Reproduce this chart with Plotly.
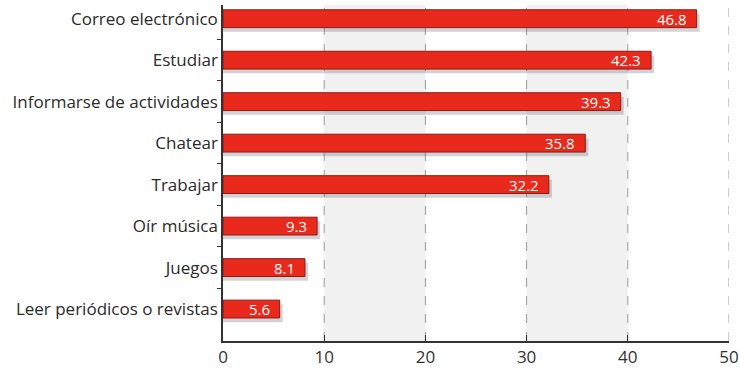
import plotly.graph_objects as go

categorias = ["Correo electrónico", "Estudiar", "Informarse de actividades", "Chatear",
              "Trabajar", "Oír música", "Juegos", "Leer periódicos o revistas"]
valores = [46.8, 42.3, 39.3, 35.8, 32.2, 9.3, 8.1, 5.6]
etiquetas = [f"{v:.1f}" for v in valores]
x_ticks = [0, 10, 20, 30, 40, 50]
bandas = [(10, 20), (30, 40)]

ROJO = "#e8291c"
FONT = "Open Sans"
ANCHO = 0.43

fig = go.Figure()

# sombra de las barras
fig.add_trace(go.Bar(
    y=categorias, x=[v + 0.3 for v in valores], orientation="h",
    width=ANCHO, offset=-ANCHO / 2 + 0.1,
    marker=dict(color="rgba(80,80,90,0.25)", line=dict(width=0)),
    hoverinfo="skip", showlegend=False,
))

fig.add_trace(go.Bar(
    y=categorias, x=valores, orientation="h",
    width=ANCHO, offset=-ANCHO / 2,
    marker=dict(color=ROJO, line=dict(color="#8a1a12", width=1)),
    showlegend=False,
))

# etiquetas de valor dentro de las barras
for c, v, t in zip(categorias, valores, etiquetas):
    fig.add_annotation(x=v, y=c, text=t, xref="x", yref="y",
                       xanchor="right", yanchor="middle", xshift=-8, yshift=0,
                       showarrow=False,
                       font=dict(color="white", size=15, family=FONT))

# bandas grises
for a, b in bandas:
    fig.add_shape(type="rect", xref="x", yref="paper", x0=a, x1=b, y0=0, y1=1,
                  fillcolor="#f1f1f1", line=dict(width=0), layer="below")

# líneas discontinuas
for t in x_ticks[1:]:
    fig.add_shape(type="line", xref="x", yref="paper", x0=t, x1=t, y0=0, y1=1,
                  line=dict(color="#9a9a9a", width=1, dash="dash"), layer="below")

fig.update_layout(
    width=739, height=372,
    margin=dict(l=223, r=10, t=5, b=31, autoexpand=False),
    plot_bgcolor="white", paper_bgcolor="white",
    barmode="overlay",
    font=dict(family=FONT, size=17, color="#333"),
    xaxis=dict(range=[0, 50], tickvals=x_ticks, showgrid=False, zeroline=False,
               showline=True, linecolor="#333", linewidth=1.5,
               ticks="inside", ticklen=6, tickcolor="#333",
               ticklabeloverflow="allow", automargin=False,
               tickfont=dict(size=17, color="#333")),
    yaxis=dict(range=[7.77, -0.33], showgrid=False, zeroline=False,
               showline=True, linecolor="#333", linewidth=1.5,
               ticks="outside", tickson="boundaries", ticklen=4, tickcolor="#333",
               automargin=False,
               tickfont=dict(size=17, color="#2a2a2a")),
)

fig.write_html("out.html", config={"displayModeBar": False},
               post_script="document.body.style.margin='0';")
